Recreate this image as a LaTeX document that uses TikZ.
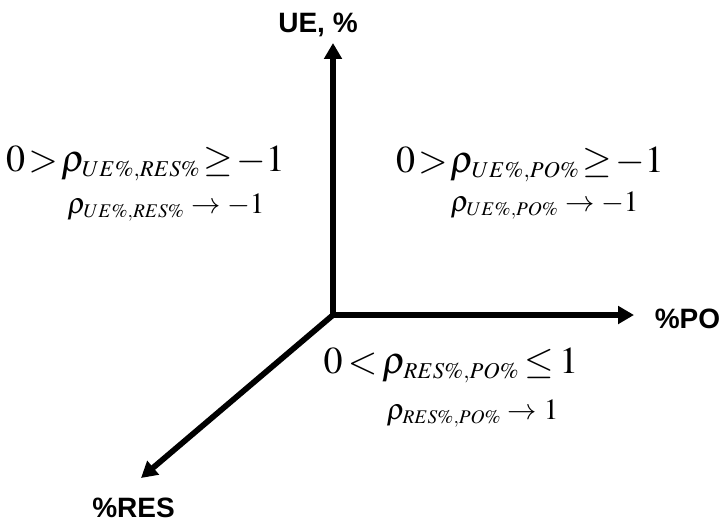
\documentclass[tikz,border=0pt]{standalone}
\usepackage{mathptmx}
\usepackage[no-math]{fontspec}
\setsansfont{Liberation Sans}
\usetikzlibrary{arrows.meta}

\DeclareMathSizes{28.5}{28.5}{17}{13}
\DeclareMathSizes{22}{22}{14.5}{11}
\newcommand{\tightrel}{\thickmuskip=1.5mu\relax}
\newcommand{\looserel}{\thickmuskip=2.5mu\relax}

\tikzset{
  axis/.style={line width=4.3pt, -{Triangle[length=12pt,width=13pt]}},
  axislabel/.style={font=\sffamily\bfseries\fontsize{21}{25}\selectfont, anchor=base, inner sep=0pt},
  corrbig/.style={font=\fontsize{28.5}{32}\selectfont\tightrel, anchor=base, inner sep=0pt},
  corrsmall/.style={font=\fontsize{22}{26}\selectfont, anchor=base, inner sep=0pt},
}

\begin{document}
\begin{tikzpicture}[x=0.75pt,y=-0.75pt]
    \useasboundingbox (0,0) rectangle (723,524);

    %axis
    \coordinate (O) at (333,315);
    \coordinate (ue tip) at (333,43);
    \coordinate (po tip) at (634,315);
    \coordinate (res tip) at (141,478);
    \draw[axis] (O) -- (ue tip);
    \draw[axis] (O) -- (po tip);
    \draw[axis] (O) -- (res tip);

    %axis labels
    \node[axislabel] (ue) at (318,33) {UE, \%};
    \node[axislabel] (po) at (687.5,328) {\%PO};
    \node[axislabel] (res) at (133.5,517) {\%RES};

    %correlations
    \node[corrbig] (ueres) at (145.5,171) {$0>\rho_{UE\%,RES\%}\geq -1$};
    \node[corrsmall] (ueres lim) at (166,213) {$\rho_{UE\%,RES\%}\rightarrow -1$};
    \node[corrbig] (uepo) at (530,172) {$0>\rho_{UE\%,PO\%}\geq -1$};
    \node[corrsmall] (uepo lim) at (544.5,211) {$\rho_{UE\%,PO\%}\rightarrow -1$};
    \node[corrbig] (respo) at (451,373) {\looserel$0<\rho_{RES\%,PO\%}\leq 1$};
    \node[corrsmall] (respo lim) at (472.5,419) {$\rho_{RES\%,PO\%}\rightarrow 1$};
\end{tikzpicture}
\end{document}
